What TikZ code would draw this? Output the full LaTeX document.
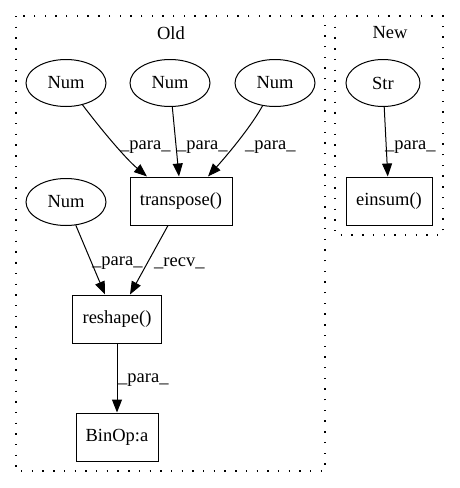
\documentclass[tikz,border=0pt]{standalone}
\usepackage{fontspec}
\setmainfont{Liberation Serif}
\usetikzlibrary{arrows.meta,shapes.geometric}
\begin{document}
\begin{tikzpicture}[x=1pt,y=-1pt,
  every node/.style={font=\fontsize{18.5}{21}\selectfont},
  ell/.style={draw,ellipse,line width=1pt,minimum width=80pt,minimum height=47pt,inner sep=0pt},
  sbox/.style={draw,rectangle,line width=1pt,minimum height=48pt,inner sep=0pt},
  edge/.style={line width=1pt,-{Triangle[length=13pt,width=10pt]}},
  elab/.style={anchor=west,inner sep=0pt},
  clus/.style={line width=1.4pt,dash pattern=on 1.4pt off 9.3pt}]
\useasboundingbox (0,0) rectangle (459,488);
\draw[clus] (16,16) rectangle (325,471);
\draw[clus] (335,16) rectangle (443,235);
\node (old) at (171,33) {Old};
\node (new) at (390,33) {New};
\node[ell] (n1) at (66,83) {Num};
\node[ell] (n2) at (170,83) {Num};
\node[ell] (n3) at (275,83) {Num};
\node[ell,minimum width=74pt] (s) at (383,83) {Str};
\node[ell] (n4) at (66,202) {Num};
\node[sbox,minimum width=102pt] (tr) at (181,201) {transpose()};
\node[sbox,minimum width=86pt] (es) at (389,201) {einsum()};
\node[sbox,minimum width=89pt] (rs) at (117,319) {reshape()};
\node[sbox,minimum width=82pt] (bo) at (117,437) {BinOp:a};
\draw[edge] (n1) .. controls (100,128) and (125,158) .. ([xshift=-34pt]tr.north);
\draw[edge] (n2) -- ([xshift=-2pt]tr.north);
\draw[edge] (n3) .. controls (252,125) and (230,152) .. ([xshift=27pt]tr.north);
\draw[edge] (s) -- (es);
\draw[edge] (n4) -- ([xshift=-12pt]rs.north);
\draw[edge] ([xshift=-13pt]tr.south) -- ([xshift=13pt]rs.north);
\draw[edge] (rs) -- (bo);
\node[elab] (l1) at (120,147) {\_para\_};
\node[elab] (l2) at (177,147) {\_para\_};
\node[elab] (l3) at (245,147) {\_para\_};
\node[elab] (l4) at (385,147) {\_para\_};
\node[elab] (l5) at (92,263) {\_para\_};
\node[elab] (l6) at (154,263) {\_recv\_};
\node[elab] (l7) at (118,380) {\_para\_};
\end{tikzpicture}
\end{document}
